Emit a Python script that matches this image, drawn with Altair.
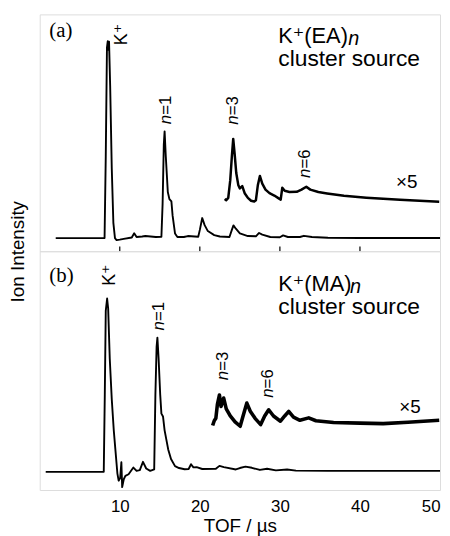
import altair as alt
import pandas as pd

# ---------------- data ----------------
# panel (a) K+(EA)n : main trace
a_tof = [2.0, 6.0, 8.1, 8.25, 8.4, 8.5, 8.58, 8.66, 8.8, 9.0, 9.2, 9.4, 9.6, 10.0, 10.5,
         11.5, 11.8, 12.1, 12.8, 13.2, 14.5, 15.2, 15.35, 15.5, 15.6, 15.75, 16.0, 16.2,
         16.45, 16.6, 16.9, 17.2, 18.0, 18.5, 19.8, 20.0, 20.3, 20.6, 21.0, 21.8, 22.5,
         23.7, 24.0, 24.2, 24.5, 25.0, 26.0, 27.0, 27.4, 27.8, 28.8, 30.0, 30.4, 31.0,
         32.5, 33.0, 34.0, 36.0, 40.0, 50.0]
a_int = [5.5, 5.5, 5.6, 40, 86, 88.7, 85, 88.5, 70, 35, 12, 5.5, 4.7, 4.9, 5.2,
         5.8, 7.6, 6.0, 6.2, 6.4, 6.0, 6.1, 20, 45, 50.6, 40, 25, 22,
         21, 15, 7.5, 6.0, 6.0, 6.4, 6.1, 9, 14.0, 11, 8.5, 6.8, 6.2,
         6.0, 9, 10.9, 9.5, 7.5, 6.4, 6.3, 7.7, 7.0, 6.0, 5.9, 6.7, 6.0,
         6.0, 6.5, 6.0, 5.7, 5.6, 5.6]
# panel (a) x5 trace
a5_tof = [23.1, 23.3, 23.55, 23.8, 24.0, 24.17, 24.35, 24.55, 24.8, 25.0, 25.3, 25.6, 26.0,
          26.4, 26.8, 27.0, 27.25, 27.5, 27.8, 28.2, 28.7, 29.3, 29.9, 30.1, 30.3, 30.6,
          31.2, 32.1, 32.7, 33.3, 33.8, 34.8, 35.9, 38.0, 40.8, 45.0, 49.9]
a5_int = [22.0, 21.5, 22.5, 30, 40, 47.4, 41, 33, 28, 26.5, 27.5, 24.5, 22.5,
          21.3, 21.0, 21.5, 28, 31.8, 28.5, 26, 24.5, 23.5, 22.2, 21.8, 26.8, 25.5,
          25, 25.1, 26, 27.2, 26, 25, 24.4, 23.4, 22.6, 21.7, 20.9]

# panel (b) K+(MA)n : main trace
b_tof = [0.75, 8.0, 8.13, 8.25, 8.42, 8.55, 8.75, 9.0, 9.25, 9.45, 9.7, 9.86, 10.05, 10.2,
         10.3, 10.5, 10.7, 11.1, 11.7, 12.1, 12.5, 12.9, 13.3, 13.8, 14.3, 14.45, 14.6,
         14.7, 14.85, 15.05, 15.2, 15.4, 15.6, 16.05, 16.4, 16.9, 17.4, 18.1, 18.6, 18.9,
         19.2, 19.6, 20.3, 22.0, 22.45, 23.0, 24.5, 25.0, 25.7, 26.5, 27.5, 28.4, 29.5,
         30.9, 32.0, 36.0, 50.0]
b_int = [7.6, 7.6, 40, 75, 80.2, 76, 55, 38, 25, 17, 7, 3.9, 5, 11.6,
         1.2, 4.5, 5.9, 6.6, 9.4, 8.0, 8.3, 11.8, 9, 8.0, 8.6, 40, 60,
         63.8, 55, 40, 32, 30.8, 25, 17, 13, 10, 9.2, 8.7, 8.8, 10.8,
         9.5, 9.6, 8.8, 8.9, 10.1, 9.6, 8.6, 9.2, 9.8, 9.3, 8.4, 8.9, 8.2,
         8.6, 8.1, 8.0, 8.0]
# panel (b) x5 trace
b5_tof = [21.6, 21.8, 22.0, 22.2, 22.45, 22.65, 22.98, 23.3, 23.8, 24.4, 25.04, 25.4, 25.87,
          26.3, 26.9, 27.6, 28.1, 28.6, 29.2, 30.07, 30.6, 31.1, 31.7, 32.5, 33.6, 34.5,
          36.7, 40.0, 42.9, 46.0, 49.9]
b5_int = [27, 29, 30, 36, 39.8, 35, 38.5, 34, 31, 28.5, 26.7, 31, 36.4,
          33, 30, 27.4, 31, 33.6, 31, 28.8, 31, 32.9, 30.5, 29.2, 30.2, 29,
          28.3, 28, 27.8, 28.4, 29.2]

tick_values = [10, 20, 30, 40, 50]
inner_ticks = [10, 20, 30, 40]

# annotations: panel letters
letters = ["(a)", "(b)"]
letter_t = [1.2, 1.2]
letter_v = [90.4, 87.1]
# species titles
species = ["K\u207a(EA)", "K\u207a(MA)"]
species_t = [29.8, 29.8]
species_v = [87.9, 83.4]
sub_t = [38.55, 38.75]
sub_v = [87.2, 82.6]
source_v = [78.2, 73.7]
# x5 labels
x5_t = [44.5, 44.9]
x5_v = [26.5, 32.4]
# rotated peak labels
kplus_t = [10.25, 8.8]
kplus_v = [87.0, 85.5]
peak_n = [["=1", "=3", "=6"], ["=1", "=3", "=6"]]
peak_t = [[15.84, 24.2, 33.1], [14.9, 22.85, 28.5]]
peak_v = [[53.6, 53.4, 30.9], [66.8, 46.0, 38.6]]

# ---------------- chart ----------------
W = 404
HEIGHTS = [239, 241]
SANS = "Liberation Sans, Arial, DejaVu Sans"
SERIF = "Liberation Serif, Times New Roman, DejaVu Serif"

xscale = alt.Scale(domain=[0, 50], nice=False, zero=False)
yscale = alt.Scale(domain=[0, 100], nice=False, zero=False)


def panel(i, tof, inten, tof5, int5, w5, xaxis, yaxis):
    X = alt.X("t:Q", scale=xscale, axis=xaxis)
    Y = alt.Y("v:Q", scale=yscale, axis=yaxis)
    main = pd.DataFrame({"t": tof, "v": inten})
    five = pd.DataFrame({"t": tof5, "v": int5})
    base_main = alt.Chart(main).mark_line(color="black", strokeWidth=1.9, strokeJoin="round").encode(
        x=X, y=Y)
    line5 = alt.Chart(five).mark_line(color="black", strokeWidth=w5, strokeJoin="round").encode(
        x=X, y=Y)

    def txt(df, **kw):
        return alt.Chart(df).mark_text(color="black", **kw).encode(x=X, y=Y, text="s:N")

    lab = txt(pd.DataFrame({"t": [letter_t[i]], "v": [letter_v[i]], "s": [letters[i]]}),
              font=SERIF, fontSize=21, align="left", baseline="alphabetic")
    spec = txt(pd.DataFrame({"t": [species_t[i]], "v": [species_v[i]], "s": [species[i]]}),
               font=SANS, fontSize=22, align="left", baseline="alphabetic")
    sub = txt(pd.DataFrame({"t": [sub_t[i]], "v": [sub_v[i]], "s": ["n"]}),
              font=SANS, fontSize=20, fontStyle="italic", align="left", baseline="alphabetic")
    src = txt(pd.DataFrame({"t": [species_t[i]], "v": [source_v[i]], "s": ["cluster source"]}),
              font=SANS, fontSize=23, align="left", baseline="alphabetic")
    x5 = txt(pd.DataFrame({"t": [x5_t[i]], "v": [x5_v[i]], "s": ["\u00d75"]}),
             font=SANS, fontSize=19, align="left", baseline="alphabetic")
    kp = txt(pd.DataFrame({"t": [kplus_t[i]], "v": [kplus_v[i]], "s": ["K\u207a"]}),
             font=SANS, fontSize=18, angle=270, align="left", baseline="middle")
    pk = pd.DataFrame({"t": peak_t[i], "v": peak_v[i], "s": ["n"] * 3})
    pk_n = txt(pk, font=SANS, fontSize=17, fontStyle="italic", angle=270, align="left", baseline="middle")
    pk2 = pd.DataFrame({"t": peak_t[i], "v": peak_v[i], "s": peak_n[i]})
    pk_eq = txt(pk2, font=SANS, fontSize=17, angle=270, align="left", baseline="middle", dx=9.5)

    layers = [base_main, line5, lab, spec, sub, src, x5, kp, pk_n, pk_eq]
    if i == 0:
        tk = pd.DataFrame({"t": inner_ticks, "v": [0] * 4, "v2": [2.0] * 4})
        ticks = alt.Chart(tk).mark_rule(color="black", strokeWidth=1.2).encode(
            x=X, y=Y, y2="v2:Q")
        layers.append(ticks)
    return alt.layer(*layers).properties(width=W, height=HEIGHTS[i])


yaxis_top = alt.Axis(title="Ion Intensity", labels=False, ticks=False, domain=False, grid=False,
                     titleX=-22, titleY=239, titleAngle=270, titleAlign="center", titleBaseline="middle",
                     titleFontSize=19, titleFont=SANS, titleFontWeight="normal", titleColor="black")

xaxis_bottom = alt.Axis(values=tick_values, title="TOF / \u00b5s", ticks=False, tickSize=0, domain=False,
                        grid=False, labelPadding=9, labelFontSize=17, labelFont=SANS, labelColor="black",
                        titleFontSize=19, titleFont=SANS, titleFontWeight="normal", titleColor="black",
                        titlePadding=2)

top = panel(0, a_tof, a_int, a5_tof, a5_int, 2.5, None, yaxis_top)
bottom = panel(1, b_tof, b_int, b5_tof, b5_int, 3.6, xaxis_bottom, None)

chart = alt.vconcat(top, bottom, spacing=0, bounds="flush").properties(
    padding={"left": 0, "top": 3, "right": 0, "bottom": 0}
).configure_view(stroke="black", strokeWidth=1.3).configure(background="white")

chart.save("out.html", embed_options={"renderer": "svg", "actions": False})
